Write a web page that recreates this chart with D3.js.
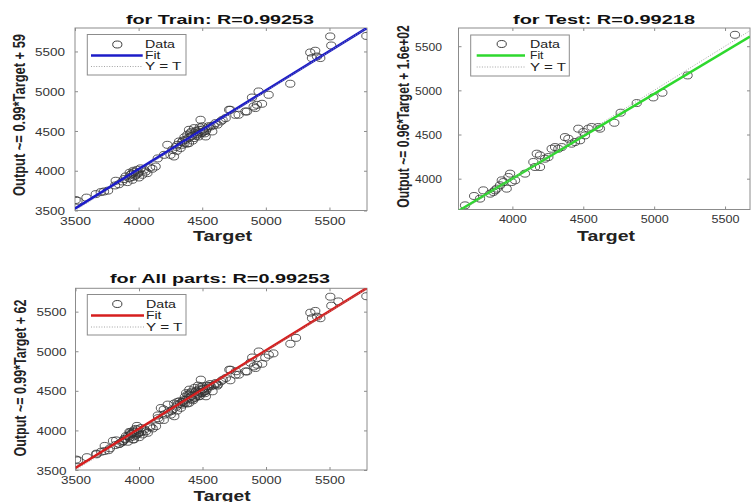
<!DOCTYPE html>
<html><head><meta charset="utf-8">
<script src="https://cdn.jsdelivr.net/npm/d3@7"></script>
<style>
html,body{margin:0;padding:0;background:#fff;}
svg{display:block;font-family:"Liberation Sans",Arial,sans-serif;}
</style></head>
<body><svg id="c" width="753" height="502"></svg>
<script>
// ---------------- data (Target, Output) ----------------
const trainData = [
 [3505,3632],[3520,3622],[3590,3662],[3663,3706],[3702,3731],[3728,3739],[3760,3750],
 [3820,3874],[3815,3815],[3845,3830],[3872,3865],[3898,3928],[3912,3857],[3925,3908],
 [3938,3949],[3951,3886],[3964,3983],[3972,3935],[3977,3949],[3990,4012],[4003,3915],
 [3995,3965],[4015,4030],[4029,3949],[4043,4012],[4055,3990],[4069,3970],[4090,4040],
 [4108,4025],[4134,4053],[4150,4155],[3930,3975],[3885,3895],[3950,3920],[3960,4000],
 [4000,3980],[3945,3960],
 [4226,4326],[4250,4200],[4265,4264],[4278,4179],[4295,4300],[4304,4326],[4318,4368],
 [4330,4285],[4344,4326],[4350,4380],[4360,4345],[4370,4389],[4383,4452],[4390,4410],
 [4396,4348],[4396,4515],[4405,4470],[4409,4431],[4420,4440],[4425,4380],[4436,4411],
 [4436,4536],[4445,4480],[4450,4500],[4462,4461],[4470,4430],[4475,4515],[4480,4490],
 [4487,4641],[4490,4470],[4501,4557],[4505,4520],[4514,4494],[4520,4470],[4527,4431],
 [4530,4500],[4540,4536],[4550,4560],[4566,4557],[4579,4494],[4590,4570],[4605,4599],
 [4620,4580],[4645,4620],[4660,4640],[4684,4662],[4711,4767],[4360,4420],[4340,4360],
 [4380,4340],[4415,4490],[4455,4440],[4500,4480],[4480,4545],[4300,4250],[4200,4200],
 [4721,4766],[4760,4703],[4786,4704],[4839,4745],[4851,4745],[4891,4921],[4904,4808],
 [4917,4788],[4930,4829],[4943,4997],[4970,4842],[5022,4955],[5192,5094],[5349,5487],
 [5388,5509],[5362,5417],[5402,5437],[5428,5417],[5506,5689],[5514,5575],[5790,5695]
];
const testData = [
 [3666,3698],[3730,3804],[3795,3868],[3772,3774],[3866,3849],[3890,3887],[3913,3925],
 [3937,3962],[3972,4019],[3984,4057],[4019,3981],[3960,3887],[3878,3868],[4089,4057],
 [4148,4189],[4172,4283],[4195,4264],[4160,4132],[4195,4132],[4230,4226],[4254,4245],
 [4277,4339],[4301,4358],[4324,4339],[4371,4471],[4395,4452],[4418,4396],[4442,4415],
 [4465,4566],[4501,4528],[4536,4566],[4559,4585],[4606,4585],[4618,4566],[4512,4490],
 [4477,4434],[4348,4358],[4719,4633],[4764,4747],[4877,4856],[4994,4920],[5058,4973],
 [5236,5169],[5570,5629],[3843,3830],[3925,3981],[3995,3962]
];
const allData = trainData.concat(testData);

const panelTitles = ["for Train: R=0.99253", "for Test: R=0.99218", "for All parts: R=0.99253"];
const yLabels = ["Output ~= 0.99*Target + 59", "Output ~= 0.96*Target + 1.6e+02", "Output ~= 0.99*Target + 62"];
const fitSlopes = [0.99, 0.96, 0.99];
const fitIntercepts = [59, 160, 62];
const tickValues = [3500, 4000, 4500, 5000, 5500];
const legendLabels = ["Data", "Fit", "Y = T"];
const fitColors = ["#1c1cc8", "#2ed82e", "#d61e1e"];

// ---------------- layout ----------------
const panels = [
 {data: trainData, box:{l:75,r:367,t:28,b:210.5}, xd:[3500,5795], yd:[3500,5795],
  title:{x:220,y:23.5,w:188}, xlab:{x:222.5,y:240.5,w:59}, ylab:{x:25,y:115,fs:12.9},
  xt:{y:224.5,w:31}, yt:{x:65,w:30},
  leg:{x0:87.3,x1:186,y0:34.5,y1:75,rows:[44.5,55.5,66.5],mk:117.3,l0:91,l1:142.7,tx:145,tw:[30,15.5,36.5]}},
 {data: testData, box:{l:458.5,r:750,t:28,b:209.5}, xd:[3620,5676], yd:[3651,5706],
  title:{x:604,y:24,w:182}, xlab:{x:606,y:240.7,w:58}, ylab:{x:409,y:116.5,fs:12.1},
  xt:{y:223,w:28}, yt:{x:442,w:27},
  leg:{x0:470.7,x1:569.3,y0:35,y1:76,rows:[44,55.5,67],mk:501.7,l0:476.7,l1:525,tx:530,tw:[30,13.5,36]}},
 {data: allData, box:{l:75.5,r:367,t:288.3,b:470}, xd:[3500,5795], yd:[3500,5795],
  title:{x:220,y:283.3,w:220}, xlab:{x:222,y:500.5,w:57}, ylab:{x:26,y:378,fs:12.5},
  xt:{y:483.5,w:30}, yt:{x:66.5,w:30},
  leg:{x0:87.3,x1:186,y0:294.5,y1:335,rows:[304,315.5,327],mk:117.3,l0:91,l1:144,tx:146,tw:[30,15.5,36.5]}}
];

const svg = d3.select("#c");
svg.append("rect").attr("width",753).attr("height",502).attr("fill","#fff");
const defs = svg.append("defs");

panels.forEach((p, i) => {
  const b = p.box;
  const x = d3.scaleLinear().domain(p.xd).range([b.l, b.r]);
  const y = d3.scaleLinear().domain(p.yd).range([b.b, b.t]);
  const xt = tickValues.filter(v => v >= p.xd[0] && v <= p.xd[1]);
  const yt = tickValues.filter(v => v >= p.yd[0] && v <= p.yd[1]);
  const g = svg.append("g");

  defs.append("clipPath").attr("id","clip"+i).append("rect")
    .attr("x",b.l).attr("y",b.t).attr("width",b.r-b.l).attr("height",b.b-b.t);

  // box
  g.append("rect").attr("x",b.l).attr("y",b.t).attr("width",b.r-b.l).attr("height",b.b-b.t)
    .attr("fill","#fff").attr("stroke","#8c8c8c").attr("stroke-width",1);

  // axes (inward ticks on all four sides)
  const styleAxis = sel => { sel.select(".domain").remove(); sel.selectAll(".tick line").attr("stroke","#8c8c8c"); };
  const ax = g.append("g").attr("transform",`translate(0,${b.b})`)
    .call(d3.axisBottom(x).tickValues(xt).tickSizeInner(-3).tickSizeOuter(0).tickFormat(d3.format("d")));
  styleAxis(ax);
  ax.selectAll("text").attr("y", p.xt.y - b.b).attr("dy", null)
    .attr("font-size",11.5).attr("fill","#333")
    .attr("textLength", p.xt.w).attr("lengthAdjust","spacingAndGlyphs");
  const axTop = g.append("g").attr("transform",`translate(0,${b.t})`)
    .call(d3.axisTop(x).tickValues(xt).tickSizeInner(-3).tickSizeOuter(0).tickFormat(""));
  styleAxis(axTop);
  const ay = g.append("g").attr("transform",`translate(${b.l},0)`)
    .call(d3.axisLeft(y).tickValues(yt).tickSizeInner(-3).tickSizeOuter(0).tickFormat(d3.format("d")));
  styleAxis(ay);
  ay.selectAll("text").attr("x", p.yt.x - b.l).attr("dy","0.36em")
    .attr("font-size",11.5).attr("fill","#333")
    .attr("textLength", p.yt.w).attr("lengthAdjust","spacingAndGlyphs");
  const ayR = g.append("g").attr("transform",`translate(${b.r},0)`)
    .call(d3.axisRight(y).tickValues(yt).tickSizeInner(-3).tickSizeOuter(0).tickFormat(""));
  styleAxis(ayR);

  const plot = g.append("g").attr("clip-path",`url(#clip${i})`);
  // data circles
  plot.selectAll("ellipse").data(p.data).enter().append("ellipse")
    .attr("cx", d => x(d[0])).attr("cy", d => y(d[1]))
    .attr("rx",4.6).attr("ry",3.5)
    .attr("fill","none").attr("stroke","#333").attr("stroke-opacity",0.85).attr("stroke-width",0.95);
  // fit line
  const m = fitSlopes[i], c = fitIntercepts[i];
  const line = d3.line().x(d => x(d[0])).y(d => y(d[1]));
  plot.append("path").datum(p.xd.map(t => [t, m*t + c])).attr("d", line)
    .attr("stroke", fitColors[i]).attr("stroke-width",2.6).attr("fill","none");
  // Y = T line
  plot.append("path").datum(p.xd.map(t => [t, t])).attr("d", line)
    .attr("stroke","#9a9a9a").attr("stroke-width",0.9).attr("stroke-dasharray","1,1.6").attr("fill","none");

  // title
  g.append("text").attr("x",p.title.x).attr("y",p.title.y).attr("text-anchor","middle")
    .attr("font-size",13).attr("font-weight","bold").attr("fill","#111")
    .attr("textLength",p.title.w).attr("lengthAdjust","spacingAndGlyphs").text(panelTitles[i]);
  // x label
  g.append("text").attr("x",p.xlab.x).attr("y",p.xlab.y).attr("text-anchor","middle")
    .attr("font-size",14).attr("font-weight","bold").attr("fill","#222")
    .attr("textLength",p.xlab.w).attr("lengthAdjust","spacingAndGlyphs").text("Target");
  // y label (natural width, glyphs stretched across the axis like the reference)
  g.append("text").attr("transform",`translate(${p.ylab.x},${p.ylab.y}) rotate(-90) scale(1,1.3)`)
    .attr("text-anchor","middle").attr("font-size",p.ylab.fs).attr("font-weight","bold").attr("fill","#222")
    .text(yLabels[i]);

  // legend
  const L = p.leg;
  const lg = g.append("g");
  lg.append("rect").attr("x",L.x0).attr("y",L.y0).attr("width",L.x1-L.x0).attr("height",L.y1-L.y0)
    .attr("fill","#fff").attr("stroke","#8c8c8c").attr("stroke-width",1);
  lg.append("ellipse").attr("cx",L.mk).attr("cy",L.rows[0]).attr("rx",4.6).attr("ry",3.5)
    .attr("fill","none").attr("stroke","#333").attr("stroke-width",0.95);
  lg.append("line").attr("x1",L.l0).attr("x2",L.l1).attr("y1",L.rows[1]).attr("y2",L.rows[1])
    .attr("stroke",fitColors[i]).attr("stroke-width",2.6);
  lg.append("line").attr("x1",L.l0).attr("x2",L.l1).attr("y1",L.rows[2]).attr("y2",L.rows[2])
    .attr("stroke","#9a9a9a").attr("stroke-width",0.9).attr("stroke-dasharray","1,1.6");
  legendLabels.forEach((t, k) => {
    lg.append("text").attr("x",L.tx).attr("y",L.rows[k]).attr("dy","0.36em")
      .attr("font-size",10.5).attr("fill","#222")
      .attr("textLength",L.tw[k]).attr("lengthAdjust","spacingAndGlyphs").text(t);
  });
});
</script>
</body></html>
